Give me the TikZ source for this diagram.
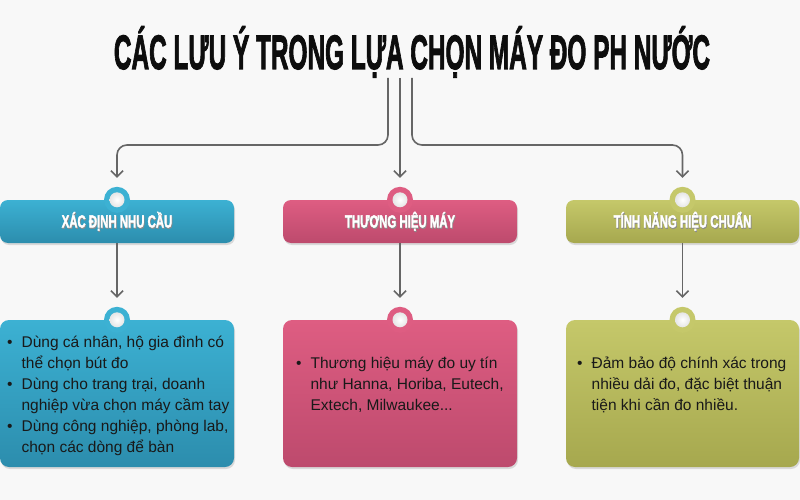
\documentclass[tikz,border=0pt]{standalone}
\usepackage{graphicx}
\usepackage{fontspec}
\setmainfont{Liberation Sans}
\newfontfamily\capsfont{Liberation Sans}[BoldFeatures={FakeBold=2.5}]
\usetikzlibrary{arrows.meta,shadows}

\definecolor{bg}{HTML}{F8F8F8}
\definecolor{linegray}{HTML}{666666}
\definecolor{blueT}{HTML}{3CB1D3}
\definecolor{blueB}{HTML}{2C8DAD}
\definecolor{pinkT}{HTML}{DE5D82}
\definecolor{pinkB}{HTML}{BD4A6D}
\definecolor{oliveT}{HTML}{C5C86A}
\definecolor{oliveB}{HTML}{A6A84E}

\newcommand\headlabel[1]{\scalebox{0.65}[1]{\capsfont\bfseries\fontsize{17.5}{17.5}\selectfont
  \rlap{\raisebox{-1.2pt}{\kern1pt\color{black!45}#1}}#1}}

\begin{document}
\begin{tikzpicture}[
        x = 1pt,
        y = -1pt,
        link/.style = {draw=linegray, line width=1.6pt, rounded corners=10pt,
          -{Straight Barb[length=6pt,width=12pt]}},
        head/.style = {rounded corners=8pt, minimum width=234pt, minimum height=43pt,
          inner sep=0pt, text=white, text height=12pt, text depth=0pt,
          drop shadow={opacity=.25, shadow xshift=1pt, shadow yshift=-2pt}},
        card/.style = {rounded corners=9pt, minimum width=234pt, minimum height=147pt,
          inner sep=0pt, drop shadow={opacity=.25, shadow xshift=1pt, shadow yshift=-2pt}},
        note/.style = {anchor=north west, inner sep=0pt, text=black!90,
          font=\fontsize{15.5}{21}\selectfont},
        tab/.style = {circle, minimum size=26pt, inner sep=0pt},
        knob/.style = {circle, minimum size=15pt, inner sep=0pt, inner color=white,
          outer color=black!10}]
      \useasboundingbox (0,0) rectangle (800,500);
      \fill [bg] (0,0) rectangle (800,500);

      % title
      \node [anchor=base, inner sep=0pt, text=black!95] (title) at (412,69)
        {\scalebox{0.53}[1.05]{\capsfont\bfseries\fontsize{46}{46}\selectfont
          CÁC LƯU Ý TRONG LỰA CHỌN MÁY ĐO PH NƯỚC}};
      \coordinate (root) at (400,78);

      % headers
      \node [head, top color=blueT, bottom color=blueB] (h1) at (117,221.5) {\headlabel{XÁC ĐỊNH NHU CẦU}};
      \node [head, top color=pinkT, bottom color=pinkB] (h2) at (400,221.5) {\headlabel{THƯƠNG HIỆU MÁY}};
      \node [head, top color=oliveT, bottom color=oliveB, minimum width=233pt] (h3) at (682.5,221.5) {\headlabel{TÍNH NĂNG HIỆU CHUẨN}};

      % cards
      \node [card, top color=blueT, bottom color=blueB] (c1) at (117,393.5) {};
      \node [card, top color=pinkT, bottom color=pinkB] (c2) at (400,393.5) {};
      \node [card, top color=oliveT, bottom color=oliveB, minimum width=233pt] (c3) at (682.5,393.5) {};

      % knobs
      \node [tab, fill=blueT] (t1) at (h1.north) {};
      \node [knob] (k1) at (t1) {};
      \node [tab, fill=pinkT] (t2) at (h2.north) {};
      \node [knob] (k2) at (t2) {};
      \node [tab, fill=oliveT] (t3) at (h3.north) {};
      \node [knob] (k3) at (t3) {};
      \node [tab, fill=blueT] (t4) at (c1.north) {};
      \node [knob] (k4) at (t4) {};
      \node [tab, fill=pinkT] (t5) at (c2.north) {};
      \node [knob] (k5) at (t5) {};
      \node [tab, fill=oliveT] (t6) at (c3.north) {};
      \node [knob] (k6) at (t6) {};

      % texts
      \node [note] (n1) at (7,333) {\begin{tabular}{@{}l@{\hspace{9pt}}l@{}}
          \textbullet & Dùng cá nhân, hộ gia đình có\\
                      & thể chọn bút đo\\
          \textbullet & Dùng cho trang trại, doanh\\
                      & nghiệp vừa chọn máy cầm tay\\
          \textbullet & Dùng công nghiệp, phòng lab,\\
                      & chọn các dòng để bàn
        \end{tabular}};
      \node [note] (n2) at (296,354) {\begin{tabular}{@{}l@{\hspace{9pt}}l@{}}
          \textbullet & Thương hiệu máy đo uy tín\\
                      & như Hanna, Horiba, Eutech,\\
                      & Extech, Milwaukee...
        \end{tabular}};
      \node [note] (n3) at (577,354) {\begin{tabular}{@{}l@{\hspace{9pt}}l@{}}
          \textbullet & Đảm bảo độ chính xác trong\\
                      & nhiều dải đo, đặc biệt thuận\\
                      & tiện khi cần đo nhiều.
        \end{tabular}};

      % connectors
      \draw [link] ([xshift=-12pt]root) -- ++(0,67) -| ([yshift=22pt]h1.north);
      \draw [link] (root) -- ([yshift=22pt]h2.north);
      \draw [link] ([xshift=12pt]root) -- ++(0,67) -| ([yshift=22pt]h3.north);
      \draw [link] (h1.south) -- ([yshift=22pt]c1.north);
      \draw [link] (h2.south) -- ([yshift=22pt]c2.north);
      \draw [link] (h3.south) -- ([yshift=22pt]c3.north);
    \end{tikzpicture}
\end{document}
